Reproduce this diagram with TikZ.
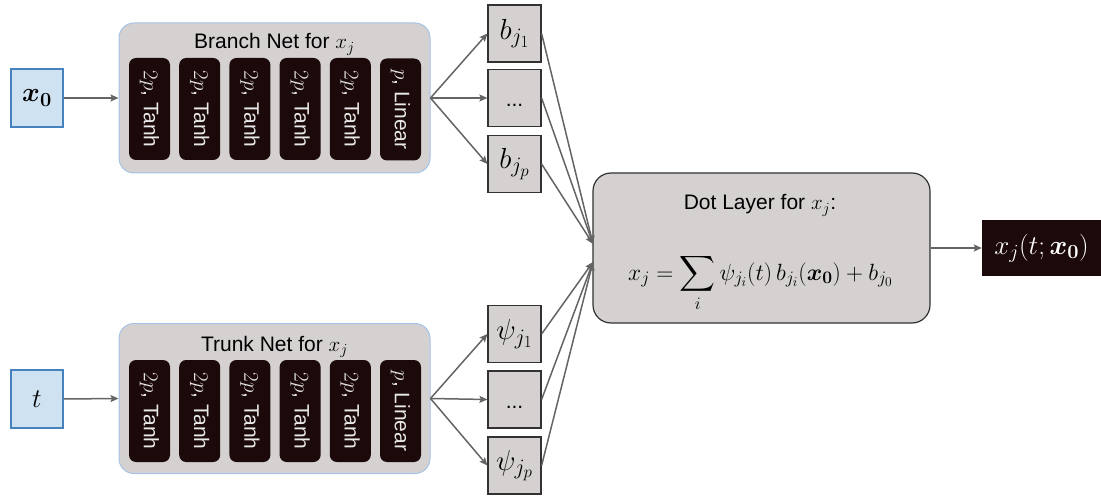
\RequirePackage{fix-cm}
\documentclass[tikz,border=0pt]{standalone}
\usepackage{amsmath}
\usepackage[no-math]{fontspec}
\setmainfont{Liberation Sans}
\usetikzlibrary{arrows.meta}
\DeclareMathSizes{29}{29}{22}{17}
\DeclareMathSizes{27}{27}{20}{15.5}
\DeclareMathSizes{23.5}{23.5}{17.5}{13.5}
\DeclareMathSizes{21}{21}{15.5}{12}
\definecolor{boxgray}{RGB}{213,209,209}
\definecolor{inblue}{RGB}{207,226,241}
\definecolor{inbord}{RGB}{70,130,190}
\definecolor{contbord}{RGB}{165,195,230}
\definecolor{darkbox}{RGB}{28,10,10}
\definecolor{arrgray}{RGB}{100,100,100}
\definecolor{txtlight}{RGB}{232,232,232}
\definecolor{bordgray}{RGB}{50,50,50}
\begin{document}
\begin{tikzpicture}[x=1pt,y=-1pt,
  inbox/.style={draw=inbord, line width=1.2pt, fill=inblue, minimum width=52pt, minimum height=58pt, inner sep=0pt, font=\fontsize{27}{32}\selectfont},
  cont/.style={draw=contbord, line width=1pt, fill=boxgray, rounded corners=15pt, minimum width=311pt, minimum height=150pt, inner sep=0pt},
  layer/.style={fill=darkbox, rounded corners=7pt, minimum width=102pt, minimum height=41pt, inner sep=0pt, rotate=-90, text=txtlight, font=\fontsize{21}{25}\selectfont},
  valbox/.style={draw=bordgray, line width=1.2pt, fill=boxgray, minimum width=53pt, minimum height=57pt, inner sep=0pt, font=\fontsize{29}{34}\selectfont},
  dotsbox/.style={valbox, font=\fontsize{21}{25}\selectfont, text height=20pt, text depth=2pt},
  conn/.style={draw=arrgray, line width=1.5pt, -{Stealth[length=8pt,width=7pt,inset=1.5pt]}},
  ttl/.style={font=\fontsize{21}{25}\selectfont, anchor=base, inner sep=0pt}
]
\useasboundingbox (0,0) rectangle (1101,500);

% inputs
\node[inbox] (x0) at (37,98) {$\boldsymbol{x}_{\mathbf{0}}$};
\node[inbox] (t) at (37,399) {$t$};

% containers
\node[cont] (br) at (274.5,98) {};
\node[ttl] (brt) at (274.5,49) {Branch Net for $x_j$};
\node[cont] (tr) at (274.5,398.5) {};
\node[ttl] (trt) at (274.5,351) {Trunk Net for $x_j$};

% layers
\foreach \k/\cx in {1/149.5,2/199.7,3/249.9,4/300.1,5/350.3}{
  \node[layer] (bl\k) at (\cx,109) {$2p$, Tanh};
  \node[layer] (tl\k) at (\cx,411) {$2p$, Tanh};
}
\node[layer] (bl6) at (400.5,109.5) {$p$, Linear};
\node[layer] (tl6) at (400.5,411) {$p$, Linear};

% output value boxes
\node[valbox] (b1) at (514.5,33.5) {$b_{j_1}$};
\node[dotsbox] (b2) at (514.5,98) {...};
\node[valbox] (bp) at (514.5,164) {$b_{j_p}$};
\node[valbox] (p1) at (514.5,334) {$\psi_{j_1}$};
\node[dotsbox] (p2) at (514.5,399.5) {...};
\node[valbox] (pp) at (514.5,465.5) {$\psi_{j_p}$};

% dot layer
\node[draw=bordgray, line width=1.2pt, fill=boxgray, rounded corners=18pt, minimum width=337pt, minimum height=150pt, inner sep=0pt] (dot) at (761.5,248) {};
\node[ttl] (dott) at (760,210) {Dot Layer for $x_j$:};
\node[font=\fontsize{23.5}{28}\selectfont, anchor=base, inner sep=0pt] (form) at (760.5,280) {$\displaystyle x_j=\sum_i \psi_{j_i}(t)\,b_{j_i}(\boldsymbol{x}_{\mathbf{0}})+b_{j_0}$};

% final output
\node[fill=darkbox, minimum width=119pt, minimum height=56pt, inner sep=0pt, text=white, font=\fontsize{27}{32}\selectfont] (out) at (1041.5,248) {$x_j(t;\boldsymbol{x}_{\mathbf{0}})$};

\coordinate (dtop) at (593,244);
\coordinate (dbot) at (593,262);

% connectors
\draw[conn] (x0.east) -- (br.west);
\draw[conn] (t.east) -- (tr.west);
\draw[conn] (br.east) -- (b1.west);
\draw[conn] (br.east) -- (b2.west);
\draw[conn] (br.east) -- (bp.west);
\draw[conn] (tr.east) -- (p1.west);
\draw[conn] (tr.east) -- (p2.west);
\draw[conn] (tr.east) -- (pp.west);
\draw[conn] (b1.east) -- (dtop);
\draw[conn] (b2.east) -- (dtop);
\draw[conn] (bp.east) -- (dtop);
\draw[conn] (p1.east) -- (dbot);
\draw[conn] (p2.east) -- (dbot);
\draw[conn] (pp.east) -- (dbot);
\draw[conn] (dot.east) -- (out.west);
\end{tikzpicture}
\end{document}
